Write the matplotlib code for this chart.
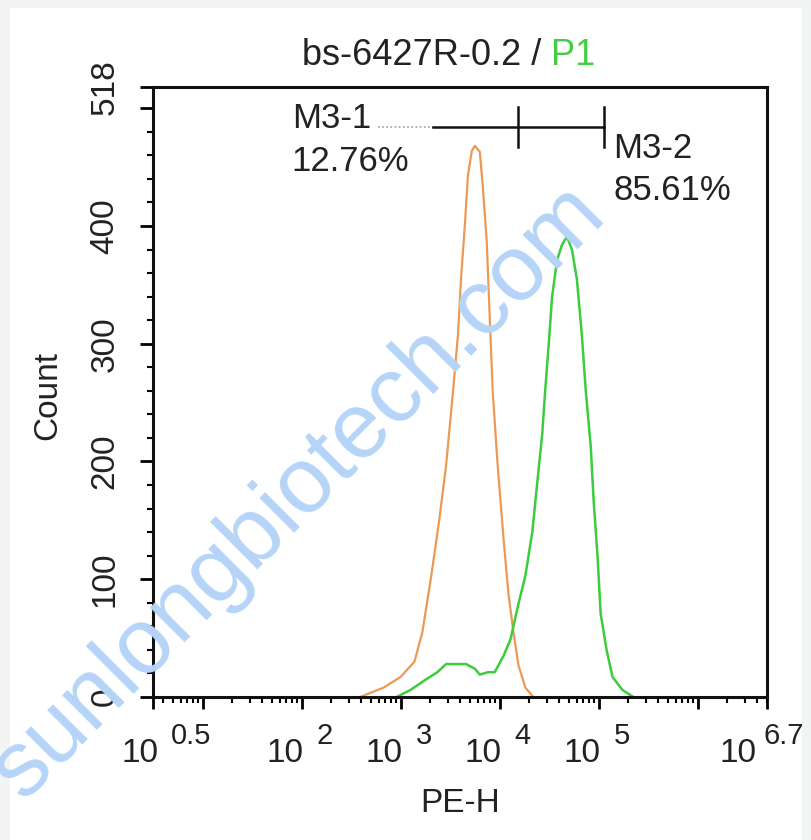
import numpy as np
import matplotlib.pyplot as plt
from matplotlib.patches import Rectangle
from matplotlib.ticker import FixedLocator, NullFormatter

plt.rcParams['font.family'] = ['Liberation Sans', 'DejaVu Sans']

# histogram outlines (log10 of PE-H, count)
orange_log = [2.59, 2.83, 3.00, 3.14, 3.22, 3.31, 3.39, 3.46, 3.53, 3.58, 3.61, 3.65,
              3.68, 3.72, 3.75, 3.80, 3.83, 3.87, 3.90, 3.93, 3.98, 4.04, 4.09, 4.14,
              4.19, 4.26, 4.34]
orange_count = [0, 8, 17, 30, 55, 103, 150, 197, 260, 308, 355, 402,
                443, 464, 468, 463, 434, 387, 323, 260, 197, 134, 87, 55,
                27, 8, 0]

green_log = [2.96, 3.10, 3.24, 3.37, 3.46, 3.54, 3.66, 3.75, 3.80, 3.88, 3.95, 4.04,
             4.11, 4.19, 4.26, 4.33, 4.38, 4.43, 4.46, 4.50, 4.53, 4.58, 4.63, 4.68,
             4.73, 4.78, 4.83, 4.87, 4.92, 4.95, 4.99, 5.02, 5.08, 5.14, 5.24, 5.35]
green_count = [0, 6, 14, 21, 28, 28, 28, 24, 19, 21, 21, 35,
               49, 79, 103, 140, 182, 223, 260, 304, 340, 371, 384, 391,
               380, 355, 308, 260, 213, 166, 118, 71, 40, 17, 6, 0]

# gate markers
gate_dotted = [10**2.77, 10**3.33]
gate_solid = [10**3.33, 10**5.05]
gate_ticks = [10**4.19, 10**5.05]
gate_y = 484
gate_names = ['M3-1', 'M3-2']
gate_pcts = ['12.76%', '85.61%']

ytick_pos = [0, 100, 200, 300, 400, 500, 518]
ytick_labels = ['0', '100', '200', '300', '400', '', '518']
xtick_exp = ['0.5', '2', '3', '4', '5', '6.7']
xtick_pos = [10**0.5, 1e2, 1e3, 1e4, 1e5, 10**6.7]

fig = plt.figure(figsize=(8.12, 8.40), dpi=100, facecolor='#f3f5f5')
fig.patches.append(Rectangle((10 / 812, 0), 792 / 812, 832 / 840,
                             transform=fig.transFigure, facecolor='white',
                             edgecolor='none', zorder=-10))

ax = fig.add_axes([153 / 812, 143 / 840, 614 / 812, 610 / 840])
ax.set_xscale('log')
ax.set_xlim(10**0.5, 10**6.7)
ax.set_ylim(0, 518)

ax.plot(10**np.array(orange_log), orange_count, color='#eb9a55', lw=1.6)
ax.plot(10**np.array(green_log), green_count, color='#3ccc3c', lw=1.8)

# gates
ax.plot(gate_dotted, [gate_y, gate_y], color='#a0a0a0', lw=1.2, ls=(0, (1, 1.5)))
ax.plot(gate_solid, [gate_y, gate_y], color='#111111', lw=1.8)
for gx in gate_ticks:
    ax.plot([gx, gx], [467, 501], color='#111111', lw=1.8)
ax.text(10**1.90, 491, gate_names[0], fontsize=25, ha='left', va='center', color='#222222')
ax.text(10**1.90, 455, gate_pcts[0], fontsize=25, ha='left', va='center', color='#222222')
ax.text(10**5.15, 466, gate_names[1], fontsize=25, ha='left', va='center', color='#222222')
ax.text(10**5.15, 430, gate_pcts[1], fontsize=25, ha='left', va='center', color='#222222')

# axes styling
for s in ax.spines.values():
    s.set_linewidth(2.2)
    s.set_color('#111111')

ax.xaxis.set_major_locator(FixedLocator([10**0.5, 1e1, 1e2, 1e3, 1e4, 1e5, 1e6, 10**6.7]))
ax.xaxis.set_major_formatter(NullFormatter())
minors = [m * 10**k for k in range(0, 7) for m in range(2, 10)]
minors = [v for v in minors if 10**0.5 < v < 10**6.7]
ax.xaxis.set_minor_locator(FixedLocator(minors))
ax.xaxis.set_minor_formatter(NullFormatter())
ax.tick_params(axis='x', which='major', length=8.5, width=2, direction='out')
ax.tick_params(axis='x', which='minor', length=4, width=1.5, direction='out')

# x labels as "10" plus a raised exponent
for i, (xp, ex) in enumerate(zip(xtick_pos, xtick_exp)):
    base_dx, sup_dx = 2, 15
    if i == 0:
        base_dx, sup_dx = 6, 18
    if i == len(xtick_pos) - 1:
        base_dx, sup_dx = -10, -3
    ax.annotate('10', xy=(xp, 0), xycoords=('data', 'axes fraction'),
                xytext=(base_dx, -65), textcoords='offset pixels',
                ha='right', va='baseline', fontsize=24, color='#222222',
                annotation_clip=False)
    ax.annotate(ex, xy=(xp, 0), xycoords=('data', 'axes fraction'),
                xytext=(sup_dx, -47), textcoords='offset pixels',
                ha='left', va='baseline', fontsize=21, color='#222222',
                annotation_clip=False)

ax.set_yticks(ytick_pos)
ax.set_yticklabels(ytick_labels, rotation=90, va='center', fontsize=24, color='#222222')
ax.set_yticks(np.arange(0, 519, 20), minor=True)
ax.tick_params(axis='y', which='major', length=9.5, width=2, direction='out', pad=14)
ax.tick_params(axis='y', which='minor', length=4.5, width=1.5, direction='out')

fig.text(48 / 812, 1 - 395 / 840, 'Count', fontsize=24, rotation=90, ha='center',
         va='center', color='#222222')
fig.text(460 / 812, 1 - 803 / 840, 'PE-H', fontsize=24, ha='center', va='center',
         color='#222222')

# title with green gate name
t1 = fig.text(302 / 812, 1 - 65 / 840, 'bs-6427R-0.2 / ', fontsize=26, ha='left',
              va='baseline', color='#222222')
fig.canvas.draw()
bb = t1.get_window_extent(fig.canvas.get_renderer())
fig.text(bb.x1 / fig.bbox.width, 1 - 65 / 840, 'P1', fontsize=26, ha='left',
         va='baseline', color='#45cc45')

# watermark
fig.text(298 / 812, 1 - 492 / 840, 'sunlongbiotech.com', fontsize=67, rotation=45,
         ha='center', va='center', rotation_mode='anchor', color='#b5d4f7', zorder=10)

fig.savefig('out.png', dpi=100, facecolor=fig.get_facecolor())
